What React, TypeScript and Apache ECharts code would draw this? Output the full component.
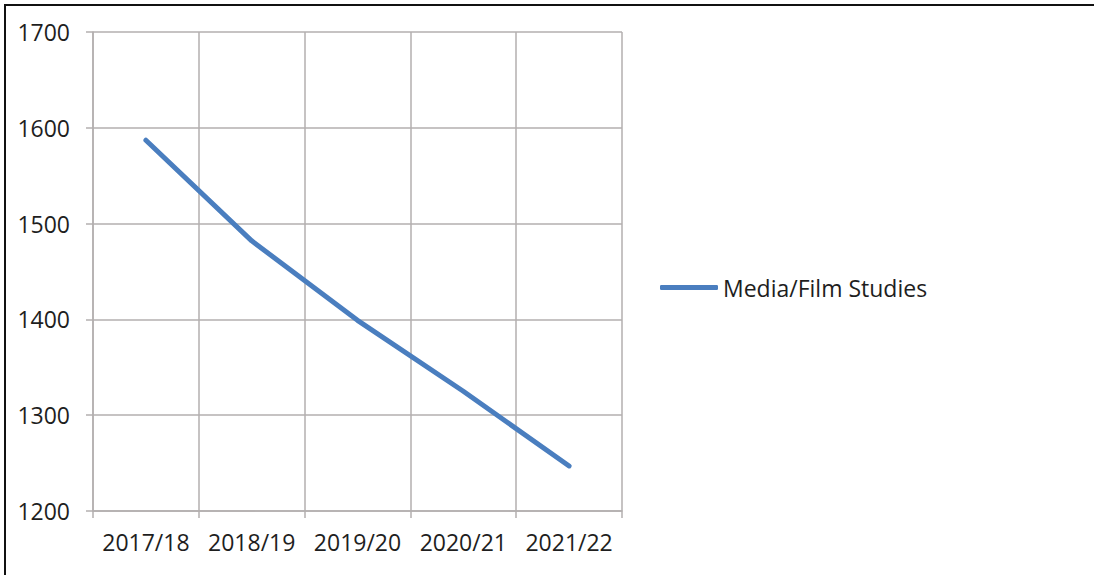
import React, { useEffect, useRef } from "react";
import * as echarts from "echarts";

const categories = ["2017/18", "2018/19", "2019/20", "2020/21", "2021/22"];
const seriesName = "Media/Film Studies";
const values = [1587, 1482, 1399, 1325, 1247];
const yMin = 1200;
const yMax = 1700;
const yInterval = 100;

export default function App() {
  const ref = useRef<HTMLDivElement>(null);
  useEffect(() => {
    if (!ref.current) return;
    const chart = echarts.init(ref.current, null, { renderer: "svg" });
    const font = "'Open Sans', 'Liberation Sans', sans-serif";
    const grid = "#b3afaf";
    const textColor = "#1e1e1e";
    chart.setOption({
      animation: false,
      backgroundColor: "#ffffff",
      grid: { left: 93, right: 472, top: 32, bottom: 64, containLabel: false },
      xAxis: {
        type: "category",
        data: categories,
        boundaryGap: true,
        axisLine: { show: true, lineStyle: { color: grid, width: 1.5 } },
        axisTick: { show: true, interval: 0, length: 7, alignWithLabel: false, lineStyle: { color: grid, width: 1.5 } },
        splitLine: { show: true, interval: 0, lineStyle: { color: grid, width: 1.5 } },
        axisLabel: { interval: 0, color: textColor, fontSize: 23, fontFamily: font, margin: 19 },
      },
      yAxis: {
        type: "value",
        min: yMin,
        max: yMax,
        interval: yInterval,
        axisLine: { show: true, lineStyle: { color: grid, width: 1.5 } },
        axisTick: { show: true, length: 7, lineStyle: { color: grid, width: 1.5 } },
        splitLine: { show: true, lineStyle: { color: grid, width: 1.5 } },
        axisLabel: {
          color: textColor,
          fontSize: 23,
          fontFamily: font,
          margin: 23,
          formatter: (v: number) => String(v),
        },
      },
      legend: {
        show: true,
        left: 660,
        top: 276,
        padding: 0,
        icon: "roundRect",
        itemWidth: 58,
        itemHeight: 5,
        itemGap: 5,
        textStyle: { color: textColor, fontSize: 23, fontFamily: font },
        data: [seriesName],
      },
      series: [
        {
          name: seriesName,
          type: "line",
          data: values,
          symbol: "none",
          color: "#4a7ebf",
          lineStyle: { color: "#4a7ebf", width: 5, cap: "round" },
        },
      ],
      graphic: [
        { type: "line", shape: { x1: 4, y1: 5, x2: 1094, y2: 5 }, style: { stroke: "#111", lineWidth: 2 } },
        { type: "line", shape: { x1: 5, y1: 4, x2: 5, y2: 575 }, style: { stroke: "#111", lineWidth: 2 } },
      ],
    });
    return () => chart.dispose();
  }, []);
  return (
    <div
      ref={ref}
      style={{ position: "fixed", left: 0, top: 0, width: 1094, height: 575, background: "#fff" }}
    />
  );
}
